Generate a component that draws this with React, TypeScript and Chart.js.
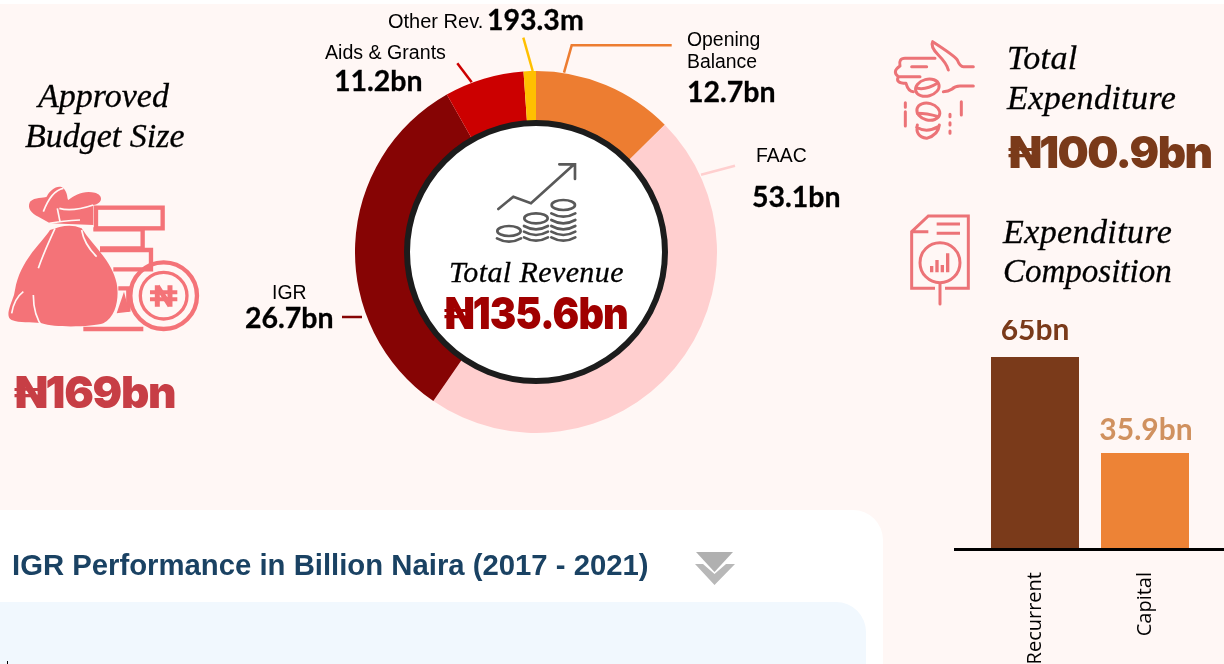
import React, { useEffect, useRef } from "react";
import { Chart, registerables } from "chart.js";

Chart.register(...registerables);

// Revenue doughnut: the labels state the figures; arc shares are read from the drawn ring.
const revenueCategories = ["Opening Balance", "FAAC", "IGR", "Aids & Grants", "Other Rev."];
const revenueArcShares = [12.6, 47.0, 32.2, 7.1, 1.1];
const revenueColors = ["#ED7D31", "#FFCFCF", "#860404", "#CC0000", "#FFC000"];

// Expenditure composition
const expenditureCategories = ["Recurrent", "Capital"];
const expenditureValues = [65, 35.9];
const expenditureLabels = ["65bn", "35.9bn"];
const expenditureColors = ["#7A3A1A", "#ED8336"];
const expenditureLabelColors = ["#7A3A1A", "#D0915F"];

const SANS = '"Liberation Sans", Arial, sans-serif';
const LATO = 'Lato, sans-serif';
const SERIF = '"Liberation Serif", serif';
const HEAVY = 'Inter, Roboto, sans-serif';

type TP = { x: number; y: number; s: number; f: string; w?: number; i?: boolean; c?: string; ls?: number; stroke?: number; sx?: number; children: React.ReactNode };
function T({ x, y, s, f, w = 400, i = false, c = "#000", ls = 0, stroke = 0, sx = 1, children }: TP) {
  return (
    <div style={{ position: "absolute", left: x, top: y, fontSize: s, fontFamily: f, fontWeight: w, fontStyle: i ? "italic" : "normal", color: c, letterSpacing: ls, lineHeight: 1, whiteSpace: "nowrap", WebkitTextStroke: stroke ? `${stroke}px ${c}` : undefined, transform: sx !== 1 ? `scaleX(${sx})` : undefined, transformOrigin: "left top" }}>
      {children}
    </div>
  );
}

const arc = (x: number, y: number) => `M${x - 36} ${y} Q${x} ${y + 20} ${x + 36} ${y}`;

function Icons() {
  const pink = "#F47378";
  const line = "#EC7377";
  const bg = "#FFF7F5";
  return (
    <svg width={1224} height={664} style={{ position: "absolute", left: 0, top: 0 }}>
      {/* leaders */}
      <g fill="none" strokeWidth={2.5}>
        <path d="M523.3 37.7 L532.7 71" stroke="#FFC000" />
        <path d="M564 72.7 L571.7 45.3 H671.7" stroke="#ED7D31" />
        <path d="M457.3 63.3 L471.7 82.3" stroke="#CC0000" />
        <path d="M701 174.7 L735 165.7" stroke="#FFCFCF" />
        <path d="M342 317 H362" stroke="#860404" />
      </g>
      {/* money bag */}
      <g transform="translate(0 180) scale(0.3333)">
        <g fill="none" stroke={pink} strokeWidth={13}>
          <rect x={288} y={83} width={200} height={62} />
          <path d="M280 148 H428 V205 H300 M300 210 H453 V268 H340 M345 268 H420 M355 325 H385 V395 M250 447 H430" />
          <circle cx={491} cy={347} r={100} />
        </g>
        <path fill={pink} d="M350 400 L372 335 L388 395 Z" />
        <path fill={pink} d="M150 150 C125 190 60 240 45 330 L42 345 C30 380 15 410 35 420 C60 430 90 425 125 430 C170 445 280 440 310 430 C350 410 358 350 350 310 C335 240 280 200 245 145 C210 130 180 140 150 150 Z" />
        <path fill={pink} d="M115 110 C95 100 80 85 90 65 C105 50 130 55 140 50 C150 30 175 12 190 25 C205 40 200 55 205 60 C225 45 250 30 285 38 C310 45 310 70 280 75 L280 135 L150 130 Z" />
        <path fill="none" stroke={bg} strokeWidth={5} d="M172 85 L180 125 M178 85 C210 95 250 85 280 75 M148 130 C175 125 200 122 240 120 M165 145 C145 190 130 220 115 265 M245 150 C250 180 265 205 290 230 M100 345 C100 390 110 420 130 445 M70 335 C50 350 40 370 35 400 M190 25 C165 30 145 55 130 95" />
        <circle cx={491} cy={347} r={70} fill="none" stroke={pink} strokeWidth={10} />
        <path fill="none" stroke={pink} strokeWidth={15} d="M472 380 V316 M510 380 V316 M472 318 L510 378" />
        <path fill="none" stroke={pink} strokeWidth={12} d="M450 337 H532 M450 358 H532" />
      </g>
      {/* growth icon */}
      <g transform="translate(400 130) scale(0.3333)" fill="none" stroke="#595959" strokeWidth={8} strokeLinecap="round">
        <path d="M295 237 L340 200 L393 220 L520 105 M478 103 H525 V147" />
        <ellipse cx={327} cy={303} rx={35} ry={15} />
        <path d={arc(327, 325)} />
        <ellipse cx={408} cy={265} rx={35} ry={15} />
        <path d={arc(408, 288) + arc(408, 305) + arc(408, 322)} />
        <ellipse cx={490} cy={225} rx={35} ry={15} />
        <path d={arc(490, 250) + arc(490, 270) + arc(490, 288) + arc(490, 305) + arc(490, 322)} />
      </g>
      {/* hand with coins */}
      <g transform="translate(880 20) scale(0.3333)" fill="none" stroke={line} strokeWidth={9} strokeLinecap="round" strokeLinejoin="round">
        <path d="M280 140 H250 Q240 140 232 120 Q225 108 158 65 Q150 80 175 105 Q200 130 205 150" />
        <path d="M165 115 H75 Q55 115 60 138 Q35 155 55 170 Q45 190 78 190 Q85 215 100 215 M95 140 H140 M55 170 H120" />
        <path d="M280 198 H240 Q225 198 215 208 Q205 215 190 215" />
        <ellipse cx={142} cy={203} rx={36} ry={25} transform="rotate(-15 142 203)" />
        <path d="M112 205 Q140 210 172 190" />
        <ellipse cx={145} cy={275} rx={35} ry={25} transform="rotate(15 145 275)" />
        <path d="M112 280 Q140 280 175 290" />
        <path d="M112 315 Q105 350 140 355 Q175 345 178 315 M110 322 Q140 340 175 320" />
        <path d="M76 248 V262 M76 275 V318 M244 245 V285 M210 283 V290 M210 308 V315 M210 333 V340" />
      </g>
      {/* document icon */}
      <g transform="translate(880 20) scale(0.3333)" fill="none" stroke={line} strokeWidth={9}>
        <path d="M165 805 H95 V635 L145 588 H265 V805 H195 M95 635 H145 M170 612 H240 M170 640 H240" />
        <circle cx={180} cy={728} r={60} />
        <path d="M180 790 V852" strokeLinecap="round" />
        <path d="M155 757 V738 M171 757 V720 M187 757 V735 M203 757 V700" strokeWidth={10} />
      </g>
      {/* chevrons */}
      <path d="M696 552 H733 L714.5 572 Z" fill="#B0B0B0" />
      <path d="M695 564 H703 L714.5 574 L726 564 H735 L714.5 585 Z" fill="#B8B8B8" />
    </svg>
  );
}

export default function App() {
  const donutRef = useRef<HTMLCanvasElement>(null);
  const barRef = useRef<HTMLCanvasElement>(null);

  useEffect(() => {
    const donut = new Chart(donutRef.current!, {
      type: "doughnut",
      data: {
        labels: revenueCategories,
        datasets: [{ data: revenueArcShares, backgroundColor: revenueColors, borderWidth: 0, hoverOffset: 0 }],
      },
      options: {
        animation: false,
        responsive: false,
        cutout: "65%",
        layout: { padding: 0 },
        plugins: { legend: { display: false }, tooltip: { enabled: false } },
      },
    });

    const labelGaps = [17, 13];
    const barExtras = {
      id: "barExtras",
      afterDatasetsDraw(chart: any) {
        const { ctx, chartArea } = chart;
        const meta = chart.getDatasetMeta(0);
        ctx.save();
        ctx.fillStyle = "#000";
        ctx.fillRect(0, chartArea.bottom - 1, chart.width, 3);
        ctx.font = `bold 30px ${LATO}`;
        ctx.textAlign = "center";
        ctx.textBaseline = "alphabetic";
        meta.data.forEach((el: any, i: number) => {
          ctx.fillStyle = expenditureLabelColors[i];
          ctx.fillText(expenditureLabels[i], el.x + i, el.y - labelGaps[i]);
        });
        ctx.restore();
      },
    };

    const bar = new Chart(barRef.current!, {
      type: "bar",
      data: {
        labels: expenditureCategories,
        datasets: [{ data: expenditureValues, backgroundColor: expenditureColors, borderWidth: 0, categoryPercentage: 0.8, barPercentage: 1 }],
      },
      options: {
        animation: false,
        responsive: false,
        layout: { padding: { left: 26, right: 24, top: 37, bottom: 0 } },
        plugins: { legend: { display: false }, tooltip: { enabled: false } },
        scales: {
          x: {
            grid: { display: false },
            border: { display: false },
            afterFit(scale: any) { scale.height = 115; },
            ticks: { minRotation: 90, maxRotation: 90, padding: 15, color: "#000", font: { family: "Open Sans", size: 20 } },
          },
          y: { display: false, min: 6.8, max: 65 },
        },
      },
      plugins: [barExtras],
    });

    return () => { donut.destroy(); bar.destroy(); };
  }, []);

  return (
    <div style={{ position: "absolute", left: 0, top: 0, width: 1224, height: 664, overflow: "hidden", background: "#fff" }}>
      <div style={{ position: "absolute", left: 0, top: 4, width: 1224, height: 660, background: "#FFF7F5" }} />
      <div style={{ position: "absolute", left: -40, top: 510, width: 923, height: 200, background: "#fff", borderRadius: 30 }} />
      <div style={{ position: "absolute", left: -40, top: 602, width: 906, height: 120, background: "#F1F8FE", borderRadius: 30 }} />
      <div style={{ position: "absolute", left: 7, top: 661, width: 1, height: 3, background: "#000" }} />

      <canvas ref={donutRef} width={362} height={362} style={{ position: "absolute", left: 355, top: 71, display: "block" }} />
      <div style={{ position: "absolute", left: 404, top: 120, width: 252, height: 252, border: "6px solid #1C1C1C", borderRadius: "50%", background: "#fff" }} />
      <canvas ref={barRef} width={270} height={344} style={{ position: "absolute", left: 954, top: 320, display: "block" }} />

      <Icons />

      <T x={38} y={79} s={34} f={SERIF} i stroke={0.3}>Approved</T>
      <T x={25} y={119} s={34} f={SERIF} i stroke={0.3}>Budget Size</T>
      <T x={14} y={370} s={44} f={HEAVY} w={900} c="#C73E45" ls={-1.3}>₦169bn</T>

      <T x={388} y={11} s={20} f={SANS}>Other Rev.</T>
      <T x={487} y={5} s={28.5} f={LATO} w={700} stroke={0.3}>193.3m</T>
      <T x={325} y={43} s={19.6} f={SANS}>Aids &amp; Grants</T>
      <T x={334} y={66} s={28.5} f={LATO} w={700} stroke={0.3}>11.2bn</T>
      <T x={687} y={30} s={19.4} f={SANS}>Opening</T>
      <T x={687} y={52} s={19.4} f={SANS}>Balance</T>
      <T x={687} y={77} s={28.5} f={LATO} w={700} stroke={0.3}>12.7bn</T>
      <T x={756} y={146} s={19.4} f={SANS}>FAAC</T>
      <T x={752} y={182} s={28.5} f={LATO} w={700} stroke={0.3}>53.1bn</T>
      <T x={272} y={283} s={19.4} f={SANS}>IGR</T>
      <T x={245} y={303} s={28.5} f={LATO} w={700} stroke={0.3}>26.7bn</T>

      <T x={449} y={257} s={30} f={SERIF} i ls={0.4} stroke={0.3}>Total Revenue</T>
      <T x={444} y={291} s={44} f={HEAVY} w={900} c="#A00000" ls={-1} sx={0.9}>₦135.6bn</T>

      <T x={1007} y={41} s={34} f={SERIF} i ls={0.4} stroke={0.3}>Total</T>
      <T x={1007} y={81} s={34} f={SERIF} i ls={0.4} stroke={0.3}>Expenditure</T>
      <T x={1008} y={130} s={44} f={HEAVY} w={900} c="#7A3A1A" ls={-1.6}>₦100.9bn</T>
      <T x={1003} y={215} s={34} f={SERIF} i ls={0.4} stroke={0.3}>Expenditure</T>
      <T x={1003} y={255} s={33} f={SERIF} i stroke={0.3}>Composition</T>

      <T x={12} y={550} s={29.3} f={SANS} w={700} c="#1A4263">IGR Performance in Billion Naira (2017 - 2021)</T>
    </div>
  );
}
